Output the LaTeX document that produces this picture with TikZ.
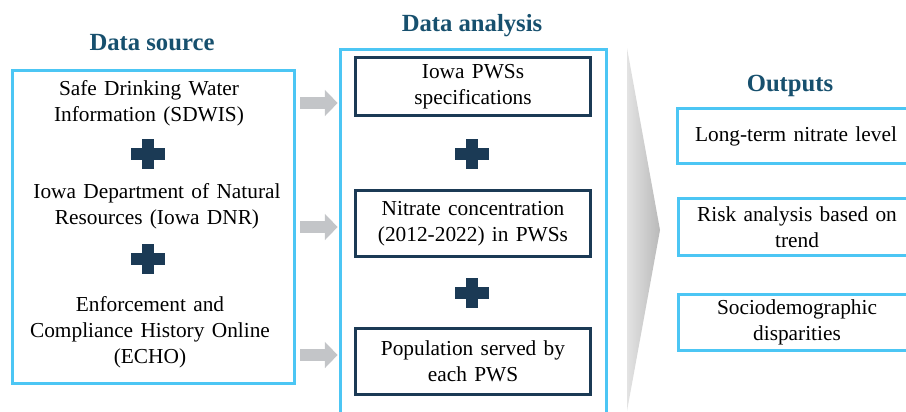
\documentclass[tikz,border=0pt]{standalone}
\usepackage{fontspec}
\setmainfont{Liberation Serif}
\usetikzlibrary{positioning,arrows.meta}
\definecolor{skyline}{HTML}{4CC6F4}
\definecolor{navy}{HTML}{1B3A55}
\definecolor{headblue}{HTML}{17506E}
\definecolor{flowgray}{HTML}{C3C5C8}
\newcommand\wordgap{\spaceskip=5.5pt plus 1pt minus 0pt\relax}
\begin{document}
\begin{tikzpicture}[x=0.75pt,y=-0.75pt,
  every node/.style={font=\fontsize{16}{19.5}\selectfont\wordgap},
  heading/.style={font=\fontsize{18.5}{22}\selectfont\bfseries,text=headblue,anchor=base},
  panel/.style={draw=skyline,line width=2.3pt},
  item/.style={align=center,inner sep=0pt},
  inbox/.style={draw=navy,line width=2.2pt,minimum width=176pt,align=center},
  outbox/.style={draw=skyline,line width=2.3pt,minimum width=177.5pt,align=center},
  flow/.style={draw=flowgray,line width=9pt,shorten <=3pt,shorten >=1pt,
    -{Triangle[length=9.5pt,width=19pt]}},
  plussign/.pic={\fill[navy] (-17,-6) rectangle (17,6);
    \fill[navy] (-6,-15) rectangle (6,15);}]
\useasboundingbox (0,0) rectangle (906,411);
\clip (0,0) rectangle (906,411);
% headings
\node[heading] (hsrc) at (152,50) {Data source};
\node[heading] (hana) at (472,31) {Data analysis};
\node[heading] (hout) at (790,91) {Outputs};
% data source panel
\node[panel,minimum width=211.5pt,minimum height=234.75pt] (src) at (153.5,227) {};
\node[item] (sdwis) at (149,103) {Safe Drinking Water\\Information (SDWIS)};
\node[item] (dnr) at (157,206) {Iowa Department of Natural\\Resources (Iowa DNR)};
\node[item] (echo) at (150,332) {Enforcement and\\Compliance History Online\\(ECHO)};
\pic at (148,154) {plussign};
\pic at (148,259) {plussign};
% data analysis panel
\node[panel,minimum width=199.5pt,minimum height=280.5pt] (ana) at (473.5,236.5) {};
\node[inbox,minimum height=43.5pt] (spec) at (473,86.5) {Iowa PWSs\\specifications};
\node[inbox,minimum height=49.5pt] (conc) at (473,223.5) {Nitrate concentration\\(2012-2022) in PWSs};
\node[inbox,minimum height=49.5pt] (pop) at (473,361.5) {Population served by\\each PWS};
\pic at (472,154) {plussign};
\pic at (472,293) {plussign};
\foreach \y in {103,227,355}
  \draw[flow] (src.east |- 0,\y) -- (ana.west |- 0,\y);
% chevron
\shade[left color=gray!22,right color=gray!55] (627,48) -- (660,230) -- (627,411) -- cycle;
% outputs
\node[outbox,minimum height=41.5pt] (lvl) at (796,136) {Long-term nitrate level};
\node[outbox,minimum height=43pt] (risk) at (797,227) {Risk analysis based on\\trend};
\node[outbox,minimum height=42pt] (socio) at (797,322.5) {Sociodemographic\\disparities};
\end{tikzpicture}
\end{document}
